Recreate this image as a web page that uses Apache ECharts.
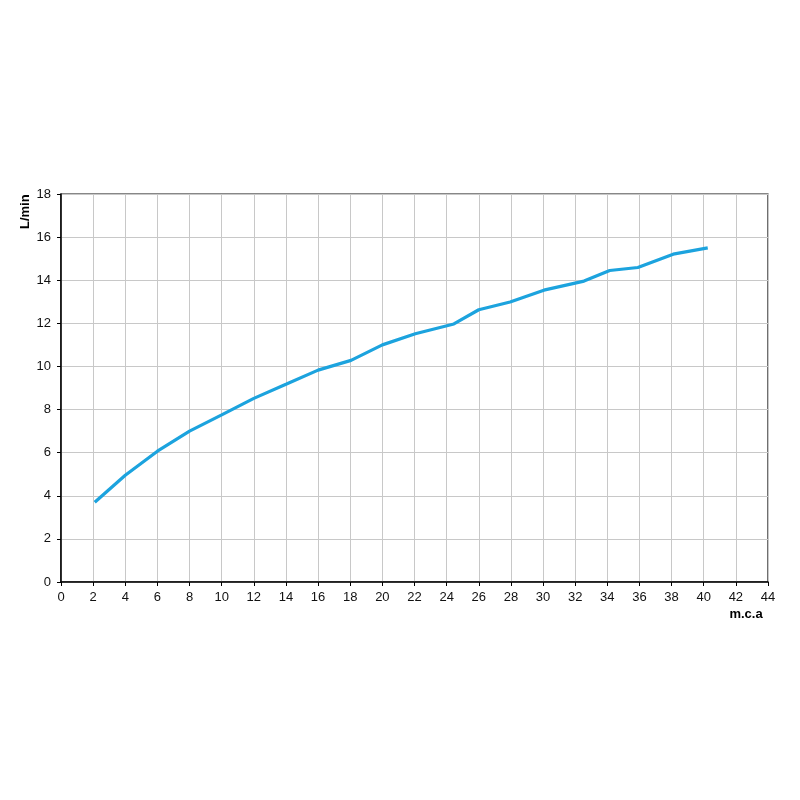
<!DOCTYPE html>
<html><head><meta charset="utf-8">
<script src="https://cdn.jsdelivr.net/npm/echarts@6/dist/echarts.min.js"></script>
<style>html,body{margin:0;padding:0;background:#fff}#c{width:800px;height:800px}</style>
</head><body><div id="c"></div>
<script>
const pressure = [2.1, 4.0, 6.0, 8.0, 10.0, 12.0, 14.0, 16.0, 18.05, 20.0, 22.05, 24.45, 26.0, 27.95, 30.05, 32.55, 34.15, 35.9, 38.1, 40.25];
const flow = [3.7, 4.95, 6.07, 7.0, 7.75, 8.52, 9.17, 9.83, 10.28, 11.0, 11.52, 11.97, 12.63, 12.99, 13.54, 13.96, 14.45, 14.59, 15.21, 15.5];
const xName = 'm.c.a';
const yName = 'L/min';
const chart = echarts.init(document.getElementById('c'), null, {renderer:'canvas'});
const lab = {color:'#111', fontFamily:'Liberation Sans, Arial', fontSize:13};
chart.setOption({
  animation:false,
  backgroundColor:'#fff',
  grid:{left:61, right:32, top:194, bottom:218, show:true, borderColor:'#111', borderWidth:1.2},
  xAxis:{type:'value', min:0, max:44, interval:2,
    axisLine:{show:true, onZero:false, lineStyle:{color:'#000', width:1.5}},
    axisTick:{show:true, length:4, lineStyle:{color:'#000'}},
    axisLabel:Object.assign({margin:9}, lab),
    splitLine:{show:true, lineStyle:{color:'#c8c8c8', width:1}}},
  yAxis:{type:'value', min:0, max:18, interval:2,
    axisLine:{show:true, onZero:false, lineStyle:{color:'#000', width:1.5}},
    axisTick:{show:true, length:4, lineStyle:{color:'#000'}},
    axisLabel:Object.assign({margin:10}, lab),
    splitLine:{show:true, lineStyle:{color:'#c8c8c8', width:1}}},
  graphic:[
    {type:'text', x:19, y:229, rotation:Math.PI/2, style:{text:yName, font:'bold 13px "Liberation Sans", Arial', fill:'#000', textAlign:'left', textVerticalAlign:'top'}},
    {type:'text', x:746, y:614, style:{text:xName, font:'bold 13px "Liberation Sans", Arial', fill:'#000', textAlign:'center', textVerticalAlign:'middle'}}
  ],
  series:[{type:'line', data:pressure.map((p,i)=>[p, flow[i]]), showSymbol:false, symbol:'none',
    lineStyle:{color:'#1CA3DE', width:3.2}}]
});
</script></body></html>
